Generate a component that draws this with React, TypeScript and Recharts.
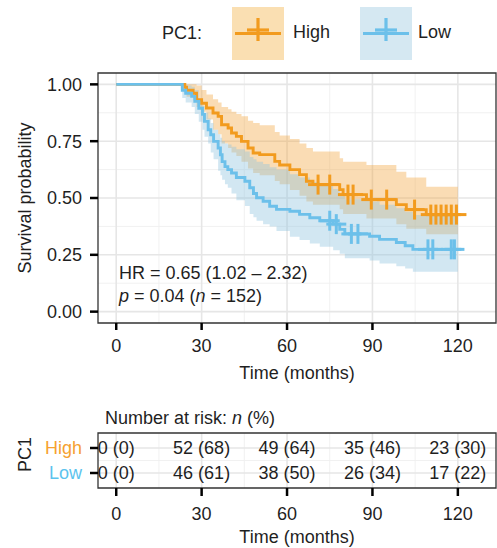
import React from 'react';
import {
  ComposedChart,
  Line,
  Area,
  Scatter,
  XAxis,
  YAxis,
  CartesianGrid,
  ReferenceArea,
} from 'recharts';

const HIGH = '#F29B1E';
const LOW = '#6CC0EA';
const HIGH_TEXT = '#F6A12F';
const LOW_TEXT = '#5CC3EE';
const HIGH_FILL = '#F2A23A';
const LOW_FILL = '#8EC3DE';
const INK = '#1f1f1f';
const FONT = '"Liberation Sans", Arial, Helvetica, sans-serif';

// PC1 High: KM steps and 95% band
const highTimes = [0, 24.1, 24.7, 27, 28.2, 30, 31.7, 34, 35.8, 37, 39.3, 40.5, 42.2, 44, 46.3, 48.1, 50.4, 55.7, 57.4, 61, 64.4, 66.8, 69.1, 78.5, 79.7, 87.9, 98.4, 101.9, 108.9, 120];
const highSurv = [1, 0.987, 0.974, 0.961, 0.932, 0.917, 0.896, 0.874, 0.859, 0.822, 0.808, 0.786, 0.771, 0.749, 0.72, 0.698, 0.691, 0.661, 0.645, 0.625, 0.603, 0.574, 0.559, 0.537, 0.515, 0.493, 0.471, 0.449, 0.427, 0.427];
const highLower = [1, 0.96, 0.945, 0.93, 0.9, 0.88, 0.845, 0.8, 0.78, 0.74, 0.72, 0.7, 0.685, 0.66, 0.63, 0.61, 0.6, 0.575, 0.56, 0.535, 0.51, 0.485, 0.47, 0.45, 0.43, 0.41, 0.385, 0.365, 0.34, 0.34];
const highUpper = [1, 1, 1, 1, 0.995, 0.975, 0.955, 0.935, 0.92, 0.9, 0.89, 0.88, 0.87, 0.86, 0.84, 0.83, 0.82, 0.79, 0.775, 0.76, 0.74, 0.72, 0.705, 0.675, 0.66, 0.645, 0.615, 0.59, 0.55, 0.55];
const highCensorTimes = [70.9, 75, 81.4, 83.2, 89.6, 95, 104.8, 110.5, 112.3, 114.1, 115.9, 117.7, 119.5];
const highCensorSurv = [0.559, 0.559, 0.515, 0.515, 0.493, 0.493, 0.449, 0.427, 0.427, 0.427, 0.427, 0.427, 0.427];

// PC1 Low
const lowTimes = [0, 23.2, 24.4, 26.5, 27.6, 29, 30.3, 31, 32.3, 33.2, 34.2, 35.8, 36.6, 37.2, 38.2, 39.2, 40.5, 42.2, 45.2, 46.9, 48.2, 49.3, 51.6, 53.9, 56.3, 61, 64.4, 68, 71.5, 76.2, 78.5, 80.3, 89, 92.5, 98.4, 101.5, 104.2, 120];
const lowSurv = [1, 0.974, 0.961, 0.947, 0.925, 0.895, 0.868, 0.837, 0.8, 0.778, 0.749, 0.72, 0.69, 0.66, 0.638, 0.625, 0.61, 0.59, 0.574, 0.545, 0.52, 0.501, 0.486, 0.464, 0.45, 0.442, 0.428, 0.413, 0.4, 0.385, 0.362, 0.342, 0.332, 0.318, 0.304, 0.29, 0.274, 0.274];
const lowLower = [1, 0.94, 0.92, 0.9, 0.87, 0.835, 0.8, 0.77, 0.74, 0.7, 0.67, 0.62, 0.6, 0.58, 0.56, 0.545, 0.52, 0.49, 0.465, 0.43, 0.415, 0.4, 0.385, 0.375, 0.355, 0.33, 0.315, 0.3, 0.285, 0.27, 0.255, 0.235, 0.225, 0.212, 0.2, 0.19, 0.175, 0.175];
const lowUpper = [1, 1, 0.995, 0.99, 0.975, 0.93, 0.905, 0.875, 0.85, 0.83, 0.8, 0.78, 0.765, 0.75, 0.74, 0.735, 0.725, 0.715, 0.705, 0.68, 0.67, 0.66, 0.65, 0.635, 0.625, 0.605, 0.59, 0.57, 0.555, 0.54, 0.515, 0.495, 0.485, 0.47, 0.455, 0.44, 0.425, 0.425];
const lowCensorTimes = [75, 77.3, 82.6, 84.9, 109.5, 111.2, 117.7, 118.8];
const lowCensorSurv = [0.4, 0.385, 0.342, 0.342, 0.274, 0.274, 0.274, 0.274];

// number at risk
const riskGroups = ['High', 'Low'];
const riskTimes = [0, 30, 60, 90, 120];
const riskHighN = [0, 52, 49, 35, 23];
const riskHighPct = [0, 68, 64, 46, 30];
const riskLowN = [0, 46, 38, 26, 17];
const riskLowPct = [0, 61, 50, 34, 22];

const timeTicks = [0, 30, 60, 90, 120];
const timeMinor = [15, 45, 75, 105];
const survTicks = [0, 0.25, 0.5, 0.75, 1];
const survMinor = [0.125, 0.375, 0.625, 0.875];

const X_DOMAIN = [-6.4, 133.4];

const steps = (t: number[], s: number[], lo: number[], hi: number[]) =>
  t.map((x, i) => ({ t: x, s: s[i], band: [lo[i], hi[i]] }));
const highData = steps(highTimes, highSurv, highLower, highUpper);
const lowData = steps(lowTimes, lowSurv, lowLower, lowUpper);
const highCensors = highCensorTimes.map((t, i) => ({ t, s: highCensorSurv[i] }));
const lowCensors = lowCensorTimes.map((t, i) => ({ t, s: lowCensorSurv[i] }));

const riskRows = [
  ...riskTimes.map((t, i) => ({ t, row: 1, label: `${riskHighN[i]} (${riskHighPct[i]})` })),
  ...riskTimes.map((t, i) => ({ t, row: 2, label: `${riskLowN[i]} (${riskLowPct[i]})` })),
];

const censorMark = (color: string) => (props: any) => {
  const { cx, cy } = props;
  if (cx == null || cy == null) return <g />;
  return (
    <g stroke={color} strokeWidth={3}>
      <line x1={cx - 10} x2={cx + 10} y1={cy} y2={cy} />
      <line x1={cx} x2={cx} y1={cy - 10} y2={cy + 10} />
    </g>
  );
};

const riskCell = (props: any) => (
  <text x={props.cx} y={props.cy} textAnchor="middle" dominantBaseline="central" fontSize={18} fill={INK}>
    {props.payload.label}
  </text>
);

const RowTick = (props: any) => {
  const { x, y, payload } = props;
  const name = riskGroups[payload.value - 1];
  return (
    <text x={x} y={y} textAnchor="end" dominantBaseline="central" fontSize={18}
      fill={name === 'High' ? HIGH_TEXT : LOW_TEXT}>
      {name}
    </text>
  );
};

const LegendKey = ({ left, color, fill }: { left: number; color: string; fill: string }) => (
  <svg width={52} height={53} style={{ position: 'absolute', left, top: 7 }}>
    <rect width={52} height={53} fill={fill} />
    <line x1={3} x2={49} y1={26.5} y2={26.5} stroke={color} strokeWidth={2.8} />
    <line x1={15} x2={37} y1={23} y2={23} stroke={color} strokeWidth={3.2} />
    <line x1={26} x2={26} y1={11} y2={34} stroke={color} strokeWidth={3.2} />
  </svg>
);

const abs = (left: number, top: number, extra: React.CSSProperties = {}): React.CSSProperties => ({
  position: 'absolute', left, top, fontSize: 18, lineHeight: '20px', whiteSpace: 'nowrap', ...extra,
});

export default function App() {
  return (
    <div style={{ position: 'absolute', left: 0, top: 0, width: 497, height: 548, fontFamily: FONT, color: INK, background: '#fff' }}>
      <ComposedChart width={497} height={390} margin={{ top: 73, right: 1, bottom: 0, left: 0 }}>
        <CartesianGrid verticalValues={timeMinor} horizontalValues={survMinor} stroke="#EFEFEF" strokeWidth={0.9} />
        <CartesianGrid verticalValues={timeTicks} horizontalValues={survTicks} stroke="#E6E6E6" strokeWidth={1.6} />
        <XAxis type="number" dataKey="t" domain={X_DOMAIN} ticks={timeTicks} height={67}
          axisLine={false} tickSize={7} tickMargin={9}
          tickLine={{ stroke: '#000', strokeWidth: 2.5 }} tick={{ fontSize: 18, fill: INK }}
          label={{ value: 'Time (months)', position: 'insideBottom', offset: 11.5, fontSize: 18, fill: INK }} />
        <YAxis type="number" domain={[-0.05, 1.05]} ticks={survTicks} width={98}
          axisLine={false} tickSize={8} tickMargin={8}
          tickFormatter={(v: number) => v.toFixed(2)}
          tickLine={{ stroke: '#000', strokeWidth: 2.5 }} tick={{ fontSize: 18, fill: INK }}
          label={{ value: 'Survival probability', angle: -90, position: 'center', dx: -24, fontSize: 18, fill: INK }} />
        <Area data={highData} dataKey="band" type="stepAfter" stroke="none" fill={HIGH_FILL} fillOpacity={0.38} isAnimationActive={false} />
        <Area data={lowData} dataKey="band" type="stepAfter" stroke="none" fill={LOW_FILL} fillOpacity={0.4} isAnimationActive={false} />
        <Line data={highData} dataKey="s" type="stepAfter" stroke={HIGH} strokeWidth={2.9} dot={false} isAnimationActive={false} />
        <Line data={lowData} dataKey="s" type="stepAfter" stroke={LOW} strokeWidth={2.9} dot={false} isAnimationActive={false} />
        <Scatter data={highCensors} dataKey="s" shape={censorMark(HIGH)} isAnimationActive={false} />
        <Scatter data={lowCensors} dataKey="s" shape={censorMark(LOW)} isAnimationActive={false} />
        <ReferenceArea x1={X_DOMAIN[0]} x2={X_DOMAIN[1]} y1={-0.05} y2={1.05} fill="none" stroke="#333" strokeWidth={1.3} ifOverflow="visible" />
      </ComposedChart>

      <ComposedChart width={497} height={158} margin={{ top: 43, right: 1, bottom: 0, left: 0 }}>
        <CartesianGrid verticalValues={timeMinor} horizontalValues={[1.5]} stroke="#EFEFEF" strokeWidth={0.9} />
        <CartesianGrid verticalValues={timeTicks} horizontalValues={[1, 2]} stroke="#E6E6E6" strokeWidth={1.6} />
        <XAxis type="number" dataKey="t" domain={X_DOMAIN} ticks={timeTicks} height={60}
          axisLine={false} tickSize={8} tickMargin={11}
          tickLine={{ stroke: '#000', strokeWidth: 2.5 }} tick={{ fontSize: 18, fill: INK }}
          label={{ value: 'Time (months)', position: 'insideBottom', offset: 5, fontSize: 18, fill: INK }} />
        <YAxis type="number" domain={[0.4, 2.6]} ticks={[1, 2]} reversed width={98}
          axisLine={false} tickSize={8} tickMargin={8}
          tickLine={{ stroke: '#000', strokeWidth: 2.5 }} tick={<RowTick />}
          label={{ value: 'PC1', angle: -90, position: 'center', dx: -24, dy: -6, fontSize: 18, fill: INK }} />
        <Scatter data={riskRows} dataKey="row" shape={riskCell} isAnimationActive={false} />
        <ReferenceArea x1={X_DOMAIN[0]} x2={X_DOMAIN[1]} y1={0.4} y2={2.6} fill="none" stroke="#333" strokeWidth={1.3} ifOverflow="visible" />
      </ComposedChart>

      <div style={abs(162, 23)}>PC1:</div>
      <LegendKey left={232} color={HIGH} fill="#FADFB2" />
      <div style={abs(293, 22)}>High</div>
      <LegendKey left={360} color={LOW} fill="#D5E8F2" />
      <div style={abs(418, 22)}>Low</div>

      <div style={abs(119, 263)}>HR = 0.65 (1.02 – 2.32)</div>
      <div style={abs(119, 286)}>
        <i>p</i> = 0.04 (<i>n</i> = 152)
      </div>

      <div style={abs(105, 408)}>
        Number at risk: <i>n</i> (%)
      </div>
    </div>
  );
}
